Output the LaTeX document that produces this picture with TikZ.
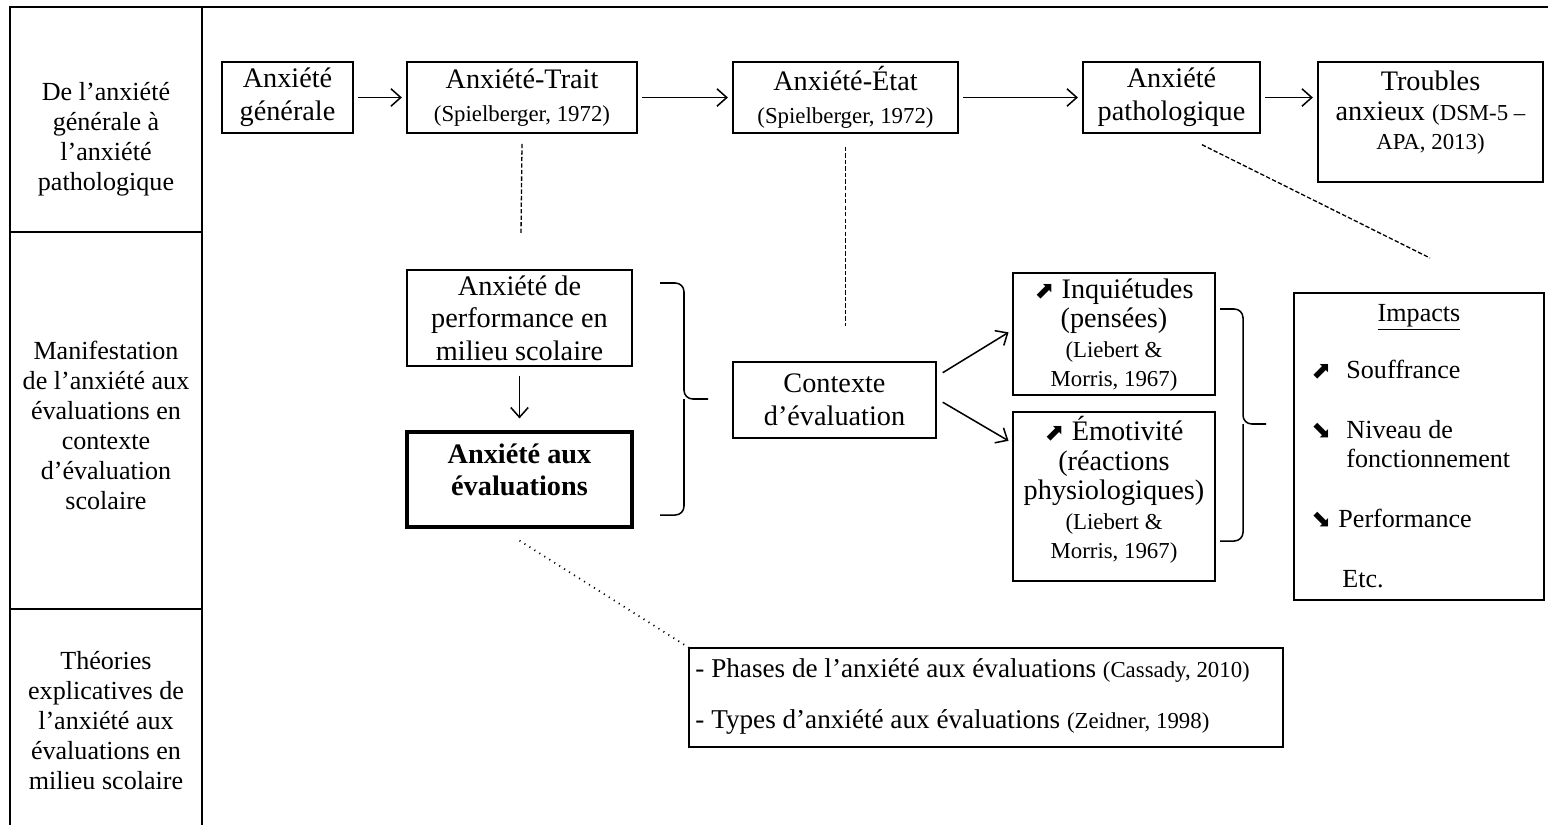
\documentclass[tikz,border=0pt]{standalone}
\usepackage{fontspec}
\setmainfont{Liberation Serif}
\newfontfamily\arrowfont{DejaVu Sans}
\usetikzlibrary{arrows.meta}
\newcommand{\hausse}{{\arrowfont\fontsize{11}{11}\selectfont\char"2B08}}
\newcommand{\baisse}{{\arrowfont\fontsize{11}{11}\selectfont\char"2B0A}}
\newcommand{\cit}[1]{{\fontsize{10.5}{12}\selectfont #1}}

\begin{document}
\begin{tikzpicture}[x=0.46pt,y=-0.46pt,
  every node/.style={align=center, font=\fontsize{13}{15}\selectfont},
  box/.style={draw, line width=0.7pt, inner sep=0pt},
  tight/.style={font=\fontsize{13}{13.6}\selectfont},
  rowlabel/.style={font=\fontsize{12}{13.8}\selectfont},
  txt/.style={inner sep=0pt, anchor=base west, font=\fontsize{12}{13.8}\selectfont},
  flow/.style={->, line width=0.7pt, shorten <=2pt, shorten >=2pt},
  dashes/.style={line width=0.6pt, dash pattern=on 2pt off 1pt},
  dots/.style={line width=0.8pt, dash pattern=on 0.5pt off 2.2pt},
  curly/.style={line width=0.7pt, rounded corners=4pt},
  >={Straight Barb[length=4.5pt,width=8pt]}]
\useasboundingbox (0,0) rectangle (1548,825);

% colonne de gauche
\draw[line width=0.7pt] (1548,7) -- (10,7) -- (10,825);
\draw[line width=0.7pt] (202,7) -- (202,825);
\draw[line width=0.7pt] (10,232) -- (202,232);
\draw[line width=0.7pt] (10,609) -- (202,609);
\node[rowlabel] (r1) at (106,139) {De l’anxiété\\générale à\\l’anxiété\\pathologique};
\node[rowlabel] (r2) at (106,425) {Manifestation\\de l’anxiété aux\\évaluations en\\contexte\\d’évaluation\\scolaire};
\node[rowlabel] (r3) at (106,721) {Théories\\explicatives de\\l’anxiété aux\\évaluations en\\milieu scolaire};

% ligne du haut
\node[box, minimum width=60.3pt, minimum height=32.7pt] (gen) at (287.5,97.5) {Anxiété\\générale};
\node[box, minimum width=105.8pt, minimum height=32.7pt] (trait) at (522,97.5) {Anxiété-Trait\\\cit{(Spielberger, 1972)}};
\node[box, minimum width=103.5pt, minimum height=32.7pt] (etat) at (845.5,97.5) {Anxiété-État\\\cit{(Spielberger, 1972)}};
\node[box, minimum width=81.4pt, minimum height=32.7pt] (patho) at (1171.5,97.5) {Anxiété\\pathologique};
\node[box, minimum width=103.5pt, minimum height=55.2pt] (troubles) at (1430.5,122) {};
\node[tight] (troublestxt) at (1430.5,113) {Troubles\\anxieux \cit{(DSM-5 –}\\\cit{APA, 2013)}};

\draw[flow] (gen) -- (trait);
\draw[flow] (trait) -- (etat);
\draw[flow] (etat) -- (patho);
\draw[flow] (patho.east) -- (patho.east -| troubles.west);

% milieu
\node[box, minimum width=103.5pt, minimum height=44.2pt] (perf) at (519.5,318) {Anxiété de\\performance en\\milieu scolaire};
\node[box, line width=1.5pt, minimum width=103.5pt, minimum height=43.7pt] (aux) at (519.5,479.5) {};
\node[font=\bfseries\fontsize{13}{15}\selectfont] (auxtxt) at (519.5,470) {Anxiété aux\\évaluations};
\node[box, minimum width=93.4pt, minimum height=35pt] (ctx) at (834.5,400) {Contexte\\d’évaluation};
\node[box, minimum width=92.9pt, minimum height=56.1pt] (inq) at (1114,334) {};
\node[tight] (inqtxt) at (1114,335) {\hausse{} Inquiétudes\\(pensées)\\\cit{(Liebert \&}\\\cit{Morris, 1967)}};
\node[box, minimum width=92.9pt, minimum height=77.7pt] (emo) at (1114,496.5) {};
\node[tight] (emotxt) at (1114,490) {\hausse{} Émotivité\\(réactions\\physiologiques)\\\cit{(Liebert \&}\\\cit{Morris, 1967)}};

\node[box, minimum width=115pt, minimum height=141.2pt] (impacts) at (1419,446.5) {};
\node[inner sep=0pt, anchor=base, font=\fontsize{12}{13.8}\selectfont] (imptitle) at (1419,321) {\underline{Impacts}};
\node[txt] (a1) at (1311,378) {\hausse};
\node[txt] (souf) at (1346,378) {Souffrance};
\node[txt] (a2) at (1311,438) {\baisse};
\node[txt] (niv) at (1346,438) {Niveau de};
\node[txt] (fonc) at (1346,467) {fonctionnement};
\node[txt] (a3) at (1311,527) {\baisse};
\node[txt] (perfo) at (1338,527) {Performance};
\node[txt] (etc) at (1342,587) {Etc.};

\draw[flow, shorten <=4pt, shorten >=5.5pt] (perf) -- (aux);
\draw[flow] ([xshift=1pt,yshift=11.5pt]ctx.east) -- ([yshift=1.8pt]inq.west);
\draw[flow] ([xshift=1pt]ctx.east) -- ([yshift=24.6pt]emo.west);

% accolades
\draw[curly] (660,283) -- (684,283) -- (684,399) -- (708,399);
\draw[curly] (660,515) -- (684,515) -- (684,399);
\draw[curly] (1220,309) -- (1243,309) -- (1243,424) -- (1266,424);
\draw[curly] (1220,541) -- (1243,541) -- (1243,424);

\coordinate (traitend) at (521,234);
\coordinate (impend) at (1430,258);
\draw[dashes] ([yshift=-4.6pt]trait.south) -- (traitend);
\draw[dashes, shorten <=6pt, shorten >=16pt] (etat.south) -- (etat.south |- ctx.north);
\draw[dashes] ([xshift=14pt,yshift=-5pt]patho.south) -- (impend);

% bas
\node[box, minimum width=273.2pt, minimum height=45.5pt] (theo) at (986,697.5) {};
\node[txt, font=\fontsize{12.5}{14}\selectfont] (phases) at (695,677) {- Phases de l’anxiété aux évaluations \cit{(Cassady, 2010)}};
\node[txt, font=\fontsize{12.5}{14}\selectfont] (types) at (695,728) {- Types d’anxiété aux évaluations \cit{(Zeidner, 1998)}};
\draw[dots] ([yshift=-5.5pt]aux.south) -- (theo.north west);
\end{tikzpicture}
\end{document}
